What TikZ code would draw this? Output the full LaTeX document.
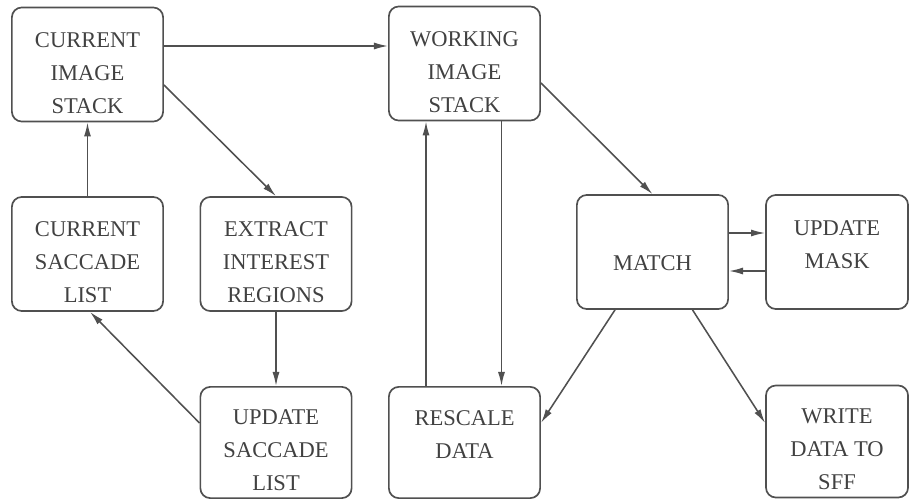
\documentclass[tikz,border=0pt]{standalone}
\usepackage{fontspec}
\setmainfont{Liberation Serif}
\newfontfamily\boxfont{Liberation Serif}
\usepackage{tikz}
\usetikzlibrary{arrows.meta,calc}
\definecolor{inkgray}{RGB}{80,80,80}
\definecolor{textgray}{RGB}{65,65,65}
\tikzset{
  blk/.style={draw=inkgray, line width=1.2pt, rounded corners=7pt,
    minimum width=3.78cm, minimum height=2.85cm},
  blkNarrow/.style={blk, minimum width=3.55cm},
  boxText/.style={text=textgray, align=center,
    font=\boxfont\fontsize{16}{23.5}\selectfont},
  flowArrow/.style={-{Latex[length=10pt,width=5pt]}, draw=inkgray, line width=1.1pt}
}
\begin{document}
\begin{tikzpicture}[x=0.025cm, y=-0.025cm]
  \useasboundingbox (0,0) rectangle (911,499);
  % left half: saccade loop
  \node[blk, label={[boxText, yshift=-6.4pt]center:CURRENT\\IMAGE\\STACK}] (cis) at (87.5,64.5) {};
  \node[blk, label={[boxText, yshift=-5.7pt]center:CURRENT\\SACCADE\\LIST}] (csl) at (87.5,254) {};
  \node[blk, label={[boxText, yshift=-5.7pt]center:EXTRACT\\INTEREST\\REGIONS}] (eir) at (276,254) {};
  \node[blk, minimum height=2.78cm, label={[boxText, yshift=-5.3pt]center:UPDATE\\SACCADE\\LIST}] (usl) at (276,442.5) {};
  % right half: matching
  \node[blk, label={[boxText, yshift=-6.4pt]center:WORKING\\IMAGE\\STACK}] (wis) at (464.5,63.5) {};
  \node[blk, minimum height=2.78cm, label={[boxText, yshift=5.7pt]center:RESCALE\\DATA}] (rsd) at (464.5,442.5) {};
  \node[blk, label={[boxText, yshift=-7.8pt]center:MATCH}] (mat) at (652.5,252) {};
  \node[blkNarrow, label={[boxText, yshift=5pt]center:UPDATE\\MASK}] (umk) at (837,252) {};
  \node[blkNarrow, minimum height=2.8cm, label={[boxText, yshift=-5.3pt]center:WRITE\\DATA TO\\SFF}] (wds) at (837,441.5) {};
  % connectors
  \draw[flowArrow] ($(cis.east)+(0,-18.5)$) coordinate (c1) -- (c1 -| wis.west);
  \draw[flowArrow] ($(cis.east)+(0,20.5)$) -- (eir.north);
  \draw[flowArrow] (csl.north) -- (cis.south);
  \draw[flowArrow] (eir.south) -- (usl.north);
  \draw[flowArrow] ($(usl.west)+(0,-19.5)$) -- ($(csl.south)+(2.5,0)$);
  \draw[flowArrow] ($(rsd.north)+(-38.5,0)$) coordinate (c2) -- (c2 |- wis.south);
  \draw[flowArrow] ($(wis.south)+(37,0)$) coordinate (c3) -- (c3 |- rsd.north);
  \draw[flowArrow] ($(wis.east)+(0,19.5)$) -- (mat.north);
  \draw[flowArrow] ($(mat.east)+(0,-19)$) coordinate (c4) -- (c4 -| umk.west);
  \draw[flowArrow] ($(umk.west)+(0,19)$) coordinate (c5) -- (c5 -| mat.east);
  \draw[flowArrow] ($(mat.south)+(-37.5,0)$) -- ($(rsd.east)+(0,-19.5)$);
  \draw[flowArrow] ($(mat.south)+(40,0)$) -- ($(wds.west)+(0,-18.5)$);
\end{tikzpicture}
\end{document}
